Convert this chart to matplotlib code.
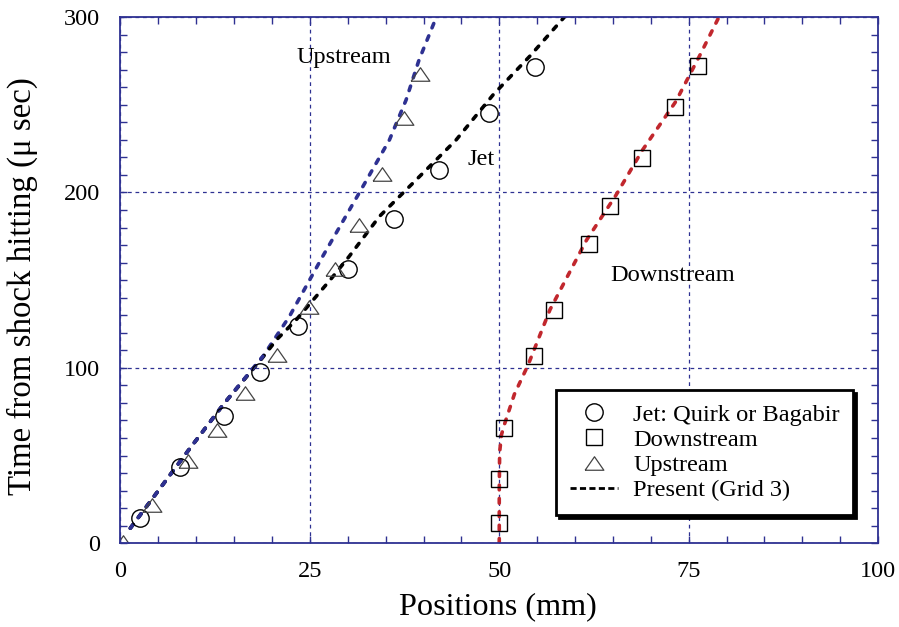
import matplotlib
matplotlib.use("Agg")
import matplotlib.pyplot as plt
from matplotlib.ticker import MultipleLocator

# ====== Dati ======
# Jet: Quirk or Bagabir (cerchi)
jet_x = [2.6, 7.8, 13.7, 18.4, 23.5, 30.0, 36.1, 42.1, 48.6, 54.7]
jet_y = [14.6, 43.3, 72.8, 97.7, 124.0, 156.1, 185.0, 212.9, 245.5, 271.6]

# Downstream (quadrati)
down_x = [49.9, 49.9, 50.6, 54.6, 57.2, 61.9, 64.6, 68.9, 73.2, 76.2]
down_y = [11.7, 36.8, 65.6, 106.9, 133.2, 170.4, 192.1, 219.6, 248.6, 271.9]

# Upstream (triangoli)
up_x = [0.4, 4.2, 8.85, 12.7, 16.4, 20.6, 24.9, 28.3, 31.5, 34.5, 37.4, 39.6]
up_y = [1.0, 21.9, 47.1, 64.6, 85.6, 107.4, 134.6, 156.4, 181.6, 210.6, 242.2, 267.4]

# Present (Grid 3) - curve tratteggiate
sim_up_x = [1.3, 8.85, 13.7, 18.8, 22.3, 26.7, 31.5, 35.5, 37.7, 39.4, 41.7]
sim_up_y = [8.6, 52.3, 79.8, 106.5, 129.3, 163.6, 199.6, 229.9, 252.7, 275.4, 300.0]

sim_jet_x = [1.3, 8.85, 13.7, 18.6, 20.6, 23.2, 27.7, 30.2, 34.2, 38.6, 44.3, 49.2, 54.0, 58.6]
sim_jet_y = [8.6, 52.3, 79.8, 105.0, 116.0, 127.4, 150.2, 163.6, 186.4, 205.3, 229.9, 255.7, 277.5, 300.0]

sim_down_x = [50.0, 50.0, 50.05, 50.3, 50.7, 52.0, 53.8, 56.7, 61.5, 65.4, 68.9, 73.3, 76.4, 79.0]
sim_down_y = [0.0, 30.0, 52.0, 62.0, 68.0, 85.0, 101.6, 133.2, 172.7, 198.4, 224.1, 251.8, 277.5, 300.0]

x_ticks = [0, 25, 50, 75, 100]
y_ticks = [0, 100, 200, 300]

# ====== Stile ======
plt.rcParams['font.family'] = ['Liberation Serif', 'DejaVu Serif']
navy = '#2e3192'
red = '#c1272d'

fig = plt.figure(figsize=(8.99, 6.27), dpi=100)
ax = fig.add_axes([0.134, 0.1335, 0.8427, 0.8394])

# curve della simulazione
dash = dict(lw=2.6, linestyle=(0, (1.3, 2.4)), dash_capstyle='round')
ax.plot(sim_up_x, sim_up_y, color=navy, **dash)
ax.plot(sim_jet_x, sim_jet_y, color='black', **dash)
ax.plot(sim_down_x, sim_down_y, color=red, **dash)
# il tratto iniziale del jet coincide con l'upstream (blu sopra)
ax.plot(sim_up_x[:4], sim_up_y[:4], color=navy, **dash)

# dati sperimentali
tri = [(-1, -0.72), (1, -0.72), (0, 0.72), (-1, -0.72)]
ax.plot(jet_x, jet_y, 'o', ms=12.5, mfc='none', mec='black', mew=1.0, ls='none')
ax.plot(down_x, down_y, 's', ms=12, mfc='none', mec='black', mew=1.0, ls='none')
ax.plot(up_x, up_y, marker=tri, ms=13.5, mfc='none', mec='#444444', mew=0.9, ls='none')

# etichette nel grafico
ax.text(23.2, 277.0, 'Upstream', fontsize=17.6, va='center', ha='left')
ax.text(45.8, 218.5, 'Jet', fontsize=17.6, va='center', ha='left')
ax.text(64.7, 152.5, 'Downstream', fontsize=17.6, va='center', ha='left')

# assi
ax.set_xlim(0, 100)
ax.set_ylim(0, 300)
ax.set_xticks(x_ticks)
ax.set_yticks(y_ticks)
ax.xaxis.set_minor_locator(MultipleLocator(5))
ax.yaxis.set_minor_locator(MultipleLocator(10))
ax.tick_params(which='both', direction='in', top=True, right=True,
               color=navy, width=1.0, length=5, labelsize=17.5, labelcolor='black')
ax.tick_params(axis='x', pad=13)
ax.tick_params(axis='y', pad=14.5)
for s in ax.spines.values():
    s.set_color(navy)
    s.set_linewidth(1.3)
ax.grid(True, which='major', color=navy, lw=0.9, linestyle=(0, (3, 3)))
ax.set_axisbelow(True)

ax.set_xlabel('Positions (mm)', fontsize=23.2)
ax.set_ylabel('Time from shock hitting (\u03bc sec)', fontsize=23.7)
ax.xaxis.label.set_va('center')
ax.yaxis.label.set_va('center')
ax.xaxis.set_label_coords(0.498, -0.121)
ax.yaxis.set_label_coords(-0.129, 0.488)

# legenda
h_jet, = ax.plot([], [], 'o', ms=12.5, mfc='none', mec='black', mew=1.0)
h_down, = ax.plot([], [], 's', ms=12, mfc='none', mec='black', mew=1.0)
h_up, = ax.plot([], [], marker=tri, ms=13.5, mfc='none', mec='#444444', mew=0.9, ls='none')
h_sim, = ax.plot([], [], color='black', lw=2.0, linestyle=(0, (2.2, 1.2)))
leg = ax.legend([h_jet, h_down, h_up, h_sim],
                ['Jet: Quirk or Bagabir', 'Downstream', 'Upstream', 'Present (Grid 3)'],
                loc='lower right', bbox_to_anchor=(0.967, 0.054), fontsize=17.6,
                fancybox=False, framealpha=1, edgecolor='black', handlelength=2.0,
                labelspacing=0.13, borderpad=0.55, handletextpad=0.6, borderaxespad=0,
                shadow={'color': 'black', 'alpha': 1})
leg.get_frame().set_linewidth(2.0)

fig.savefig('out.png', dpi=100)
